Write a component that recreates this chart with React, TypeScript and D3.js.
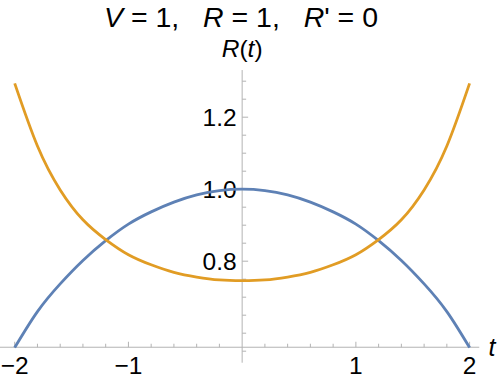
import React, { useEffect, useRef } from 'react';
import * as d3 from 'd3';

// sample points, t from -2 to 2 in steps of 0.2
const tValues = [-2, -1.8, -1.6, -1.4, -1.2, -1, -0.8, -0.6, -0.4, -0.2, 0, 0.2, 0.4, 0.6, 0.8, 1, 1.2, 1.4, 1.6, 1.8, 2];
const blueValues = [0.56, 0.66, 0.737, 0.802, 0.857, 0.903, 0.937, 0.964, 0.984, 0.996, 1.0, 0.996, 0.984, 0.964, 0.937, 0.903, 0.857, 0.802, 0.737, 0.66, 0.56];
const orangeValues = [1.294, 1.12, 0.998, 0.915, 0.86, 0.818, 0.79, 0.769, 0.756, 0.748, 0.746, 0.748, 0.756, 0.769, 0.79, 0.818, 0.86, 0.915, 0.998, 1.12, 1.294];

const xMajor = [-2, -1, 1, 2];
const xMajorLabels = ['\u22122', '\u22121', '1', '2'];
const yMajor = [0.8, 1.0, 1.2];
const yMajorLabels = ['0.8', '1.0', '1.2'];

const W = 498;
const H = 381;
const FONT = '"Liberation Sans", Arial, sans-serif';

export default function App() {
    const ref = useRef<SVGSVGElement>(null);

    useEffect(() => {
        const svg = d3.select(ref.current);
        svg.selectAll('*').remove();

        const x = d3.scaleLinear().domain([-2, 2]).range([14.7, 469.6]);
        const y = d3.scaleLinear().domain([0.8, 1.2]).range([261.2, 117.2]);

        const axisColor = '#b3b3b3';
        const y0 = y(0.561); // where the t axis sits

        // x axis
        svg.append('line')
            .attr('x1', 0).attr('x2', x(2.085))
            .attr('y1', y0).attr('y2', y0)
            .attr('stroke', axisColor).attr('stroke-width', 1);

        const xMinor = d3.range(-10, 11).map(i => i * 0.2).filter(v => Math.abs(v) > 1e-9);
        svg.append('g').selectAll('line').data(xMinor).enter().append('line')
            .attr('x1', d => x(d)).attr('x2', d => x(d))
            .attr('y1', y0).attr('y2', d => Math.abs(d - Math.round(d)) < 1e-9 ? y0 - 5.5 : y0 - 3.5)
            .attr('stroke', axisColor).attr('stroke-width', 1);

        // y axis
        svg.append('line')
            .attr('x1', x(0)).attr('x2', x(0))
            .attr('y1', y(1.331)).attr('y2', y(0.518))
            .attr('stroke', axisColor).attr('stroke-width', 1);

        const yMinor = d3.range(11, 27).map(i => i * 0.05);
        svg.append('g').selectAll('line').data(yMinor).enter().append('line')
            .attr('x1', x(0))
            .attr('x2', d => yMajor.some(m => Math.abs(m - d) < 1e-6) ? x(0) + 6 : x(0) + 4)
            .attr('y1', d => y(d)).attr('y2', d => y(d))
            .attr('stroke', axisColor).attr('stroke-width', 1);

        // tick labels
        svg.append('g').selectAll('text').data(yMajor).enter().append('text')
            .attr('x', x(0) - 5.5)
            .attr('y', d => y(d) + 8.8)
            .attr('text-anchor', 'end')
            .attr('font-family', FONT).attr('font-size', 24.5).attr('fill', '#000')
            .text((d, i) => yMajorLabels[i]);

        svg.append('g').selectAll('text').data(xMajor).enter().append('text')
            .attr('x', d => x(d))
            .attr('y', 373.5)
            .attr('text-anchor', 'middle')
            .attr('font-family', FONT).attr('font-size', 24.5).attr('fill', '#000')
            .text((d, i) => xMajorLabels[i]);

        // axis labels
        svg.append('text')
            .attr('x', 492).attr('y', 356)
            .attr('text-anchor', 'middle')
            .attr('font-family', FONT).attr('font-size', 25).attr('font-style', 'italic')
            .text('t');

        const rt = svg.append('text')
            .attr('x', x(0)).attr('y', 57)
            .attr('text-anchor', 'middle')
            .attr('font-family', FONT).attr('font-size', 24.5);
        rt.append('tspan').attr('font-style', 'italic').text('R');
        rt.append('tspan').text('(');
        rt.append('tspan').attr('font-style', 'italic').text('t');
        rt.append('tspan').text(')');

        // title
        const title = svg.append('text')
            .attr('x', 241).attr('y', 27)
            .attr('text-anchor', 'middle')
            .attr('font-family', FONT).attr('font-size', 28.5)
            .style('white-space', 'pre');
        title.append('tspan').attr('font-style', 'italic').text('V');
        title.append('tspan').text(' = 1,   ');
        title.append('tspan').attr('font-style', 'italic').text('R');
        title.append('tspan').text(' = 1,   ');
        title.append('tspan').attr('font-style', 'italic').text('R');
        title.append('tspan').text("' = 0");

        // curves
        const line = d3.line<number>()
            .x((d, i) => x(tValues[i]))
            .y(d => y(d))
            .curve(d3.curveNatural);

        svg.append('path')
            .attr('d', line(blueValues))
            .attr('fill', 'none')
            .attr('stroke', '#5e81b5')
            .attr('stroke-width', 2.8);

        svg.append('path')
            .attr('d', line(orangeValues))
            .attr('fill', 'none')
            .attr('stroke', '#e19c24')
            .attr('stroke-width', 2.8);
    }, []);

    return (
        <svg ref={ref} width={W} height={H}
            style={{ position: 'absolute', left: 0, top: 0, background: '#fff' }} />
    );
}
